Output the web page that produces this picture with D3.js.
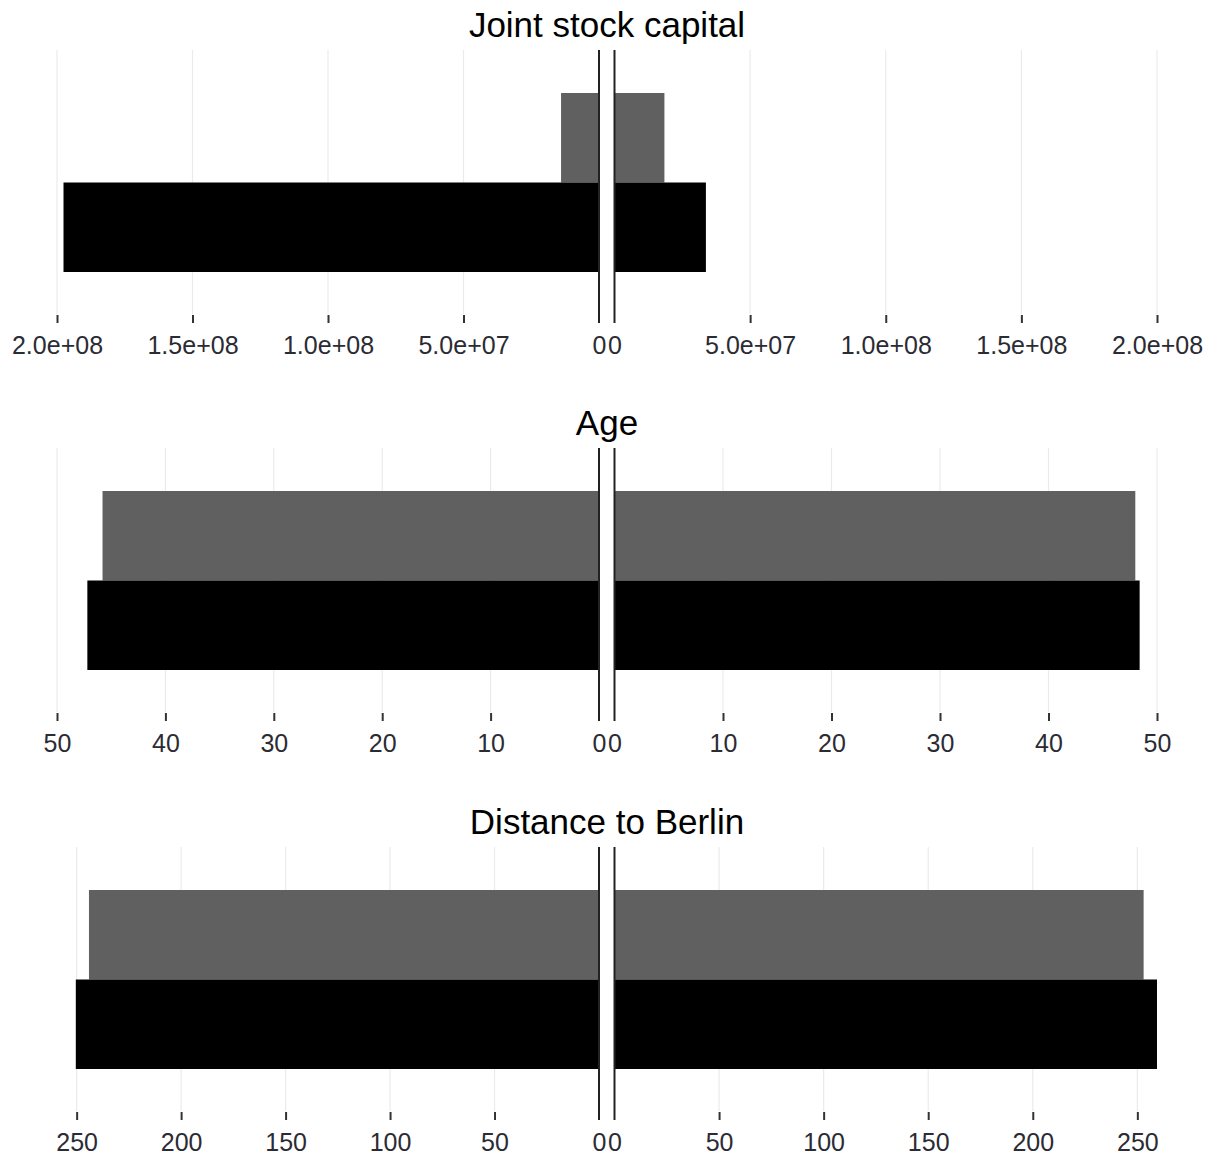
<!DOCTYPE html>
<html>
<head>
<meta charset="utf-8">
<script src="https://cdn.jsdelivr.net/npm/d3@7"></script>
<style>
  html, body { margin: 0; padding: 0; background: #fff; }
  svg { display: block; font-family: "Liberation Sans", Arial, sans-serif; }
</style>
</head>
<body>
<svg id="chart" width="1211" height="1155"></svg>
<script>
// Variables compared, one panel each
const variables = ["Joint stock capital", "Age", "Distance to Berlin"];
// Two bar rows per side: upper (grey) and lower (black)
const rows = ["unmatched", "matched"];
// Values on the left-hand side of each panel
const leftUnmatched = [1.40e7, 45.8, 244.1];
const leftMatched   = [1.976e8, 47.2, 250.4];
// Values on the right-hand side of each panel
const rightUnmatched = [1.84e7, 48.0, 253.0];
const rightMatched   = [3.37e7, 48.4, 259.4];
// Axis limits per panel
const axisMax = [2e8, 50, 259.4];
// Tick values and their labels per panel
const tickValues = [
  [0, 5e7, 1e8, 1.5e8, 2e8],
  [0, 10, 20, 30, 40, 50],
  [0, 50, 100, 150, 200, 250]
];
const tickLabels = [
  ["0", "5.0e+07", "1.0e+08", "1.5e+08", "2.0e+08"],
  ["0", "10", "20", "30", "40", "50"],
  ["0", "50", "100", "150", "200", "250"]
];

const svg = d3.select("#chart");
const rowColor = { unmatched: "#606060", matched: "#000000" };

const zeroL = 599, zeroR = 614.5, outerL = 57, outerR = 1157;
const panelTops = [50, 448, 847];
const panelH = 264;

variables.forEach((name, i) => {
  const g = svg.append("g").attr("transform", `translate(0,${panelTops[i]})`);
  const xL = d3.scaleLinear().domain([0, axisMax[i]]).range([zeroL, outerL]);
  const xR = d3.scaleLinear().domain([0, axisMax[i]]).range([zeroR, outerR]);
  const y = d3.scaleBand().domain(rows).range([43, 222]).padding(0);

  // panel title
  g.append("text")
    .attr("x", 607).attr("y", -13)
    .attr("text-anchor", "middle")
    .attr("font-size", 35)
    .attr("fill", "#000")
    .text(name);

  const ticks = tickValues[i];
  const labels = tickLabels[i];

  // light vertical grid lines
  [xL, xR].forEach(x => {
    g.selectAll(null).data(ticks.filter(t => t > 0)).enter().append("line")
      .attr("x1", d => x(d)).attr("x2", d => x(d))
      .attr("y1", 0).attr("y2", panelH)
      .attr("stroke", "#ebebeb").attr("stroke-width", 1.2);
  });

  // bars
  const data = rows.map((r, k) => ({
    row: r,
    left: (k === 0 ? leftUnmatched : leftMatched)[i],
    right: (k === 0 ? rightUnmatched : rightMatched)[i]
  }));
  g.selectAll(null).data(data).enter().append("rect")
    .attr("x", d => xL(d.left)).attr("width", d => xL(0) - xL(d.left))
    .attr("y", d => y(d.row)).attr("height", y.bandwidth())
    .attr("fill", d => rowColor[d.row]);
  g.selectAll(null).data(data).enter().append("rect")
    .attr("x", xR(0)).attr("width", d => xR(d.right) - xR(0))
    .attr("y", d => y(d.row)).attr("height", y.bandwidth())
    .attr("fill", d => rowColor[d.row]);

  // zero reference lines of both halves
  [xL(0), xR(0)].forEach(x0 => {
    g.append("line")
      .attr("x1", x0).attr("x2", x0)
      .attr("y1", 0).attr("y2", panelH + 9)
      .attr("stroke", "#222").attr("stroke-width", 2);
  });

  // axes below each half
  const fmt = (d) => labels[ticks.indexOf(d)];
  [xL, xR].forEach(x => {
    const ax = g.append("g")
      .attr("transform", `translate(0,${panelH + 1})`)
      .call(d3.axisBottom(x).tickValues(ticks).tickFormat(fmt).tickSize(8).tickPadding(13));
    ax.select(".domain").remove();
    ax.selectAll(".tick line").attr("stroke", "#333").attr("stroke-width", 2)
      .filter(d => d === 0).remove();
    ax.selectAll(".tick text")
      .attr("font-size", 25)
      .attr("font-family", "'Liberation Sans', Arial, sans-serif")
      .attr("fill", "#2b2b33");
  });
});
</script>
</body>
</html>
